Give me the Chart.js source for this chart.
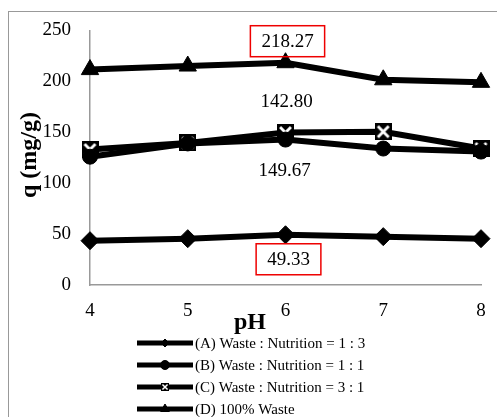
<!DOCTYPE html>
<html>
<head>
<meta charset="utf-8">
<script src="https://cdn.jsdelivr.net/npm/chart.js@4"></script>
<style>
  html, body { margin: 0; padding: 0; background: #fff; overflow: hidden; }
  #wrap { position: relative; width: 497px; height: 417px; }
  #frame { position: absolute; left: 8px; top: 11px; width: 600px; height: 600px; border: 1px solid #999; box-sizing: border-box; }
  canvas { position: absolute; left: 0; top: 0; }
</style>
</head>
<body>
<div id="wrap">
  <div id="frame"></div>
  <canvas id="chart" width="497" height="417"></canvas>
</div>
<script>
const phLabels = ["4", "5", "6", "7", "8"];
const seriesA = [43.5, 45.5, 49.33, 47.5, 45.5];
const seriesB = [126, 139, 142.80, 134, 131];
const seriesC = [133, 139.5, 149.67, 150.5, 134];
const seriesD = [211.5, 215, 218.27, 201.5, 199];
const legendNames = [
  "(A) Waste : Nutrition = 1 : 3",
  "(B) Waste : Nutrition = 1 : 1",
  "(C) Waste : Nutrition = 3 : 1",
  "(D) 100% Waste"
];
const serif = "'Liberation Serif', 'Times New Roman', serif";

// square with white cross for series C
function crossBox(size) {
  const c = document.createElement("canvas");
  c.width = size; c.height = size;
  const g = c.getContext("2d");
  g.fillStyle = "#000";
  g.fillRect(0, 0, size, size);
  g.strokeStyle = "#fff";
  g.lineWidth = Math.max(1.5, size / 6);
  g.beginPath();
  g.moveTo(size * 0.18, size * 0.18); g.lineTo(size * 0.82, size * 0.82);
  g.moveTo(size * 0.82, size * 0.18); g.lineTo(size * 0.18, size * 0.82);
  g.stroke();
  return c;
}
const boxBig = crossBox(17);
const boxSmall = crossBox(8);

function ds(label, data, style, radius, legendStyle, legendRadius) {
  return {
    label: label, data: data,
    borderColor: "#000", backgroundColor: "#000",
    borderWidth: 6, tension: 0,
    pointStyle: style, pointRadius: radius,
    pointBackgroundColor: "#000", pointBorderColor: "#000", pointBorderWidth: 1,
    legendStyle: legendStyle, legendRadius: legendRadius
  };
}

const extras = {
  id: "extras",
  afterDraw(chart) {
    const ctx = chart.ctx;
    const xs = chart.scales.x, ys = chart.scales.y;
    ctx.save();
    ctx.fillStyle = "#000";
    // axis titles
    ctx.font = "bold 24px " + serif;
    ctx.textAlign = "center";
    ctx.textBaseline = "middle";
    ctx.fillText("pH", 250, 323);
    ctx.save();
    ctx.translate(30, 155);
    ctx.rotate(-Math.PI / 2);
    ctx.font = "bold 24px " + serif;
    ctx.fillText("q (mg/g)", 0, 0);
    ctx.restore();

    // value labels at pH 6
    ctx.font = "19px " + serif;
    const px = xs.getPixelForValue(2);
    const labels = [
      { v: seriesD[2], dy: -22, box: true, dx: 2 },
      { v: seriesA[2], dy: 24, box: true, dx: 3 },
      { v: seriesB[2], dy: -32, box: false, dx: 1, ref: seriesC[2] },
      { v: seriesC[2], dy: 30, box: false, dx: -1, ref: seriesB[2] }
    ];
    labels.forEach(l => {
      const base = ys.getPixelForValue(l.ref !== undefined ? l.ref : l.v);
      const x = px + l.dx, y = base + l.dy;
      const t = l.v.toFixed(2);
      ctx.fillText(t, x, y + 1);
      if (l.box) {
        const w = ctx.measureText(t).width + 22;
        ctx.strokeStyle = "#e00";
        ctx.lineWidth = 1.5;
        ctx.strokeRect(x - w / 2, y - 15, w, 31);
      }
    });

    // legend
    ctx.font = "15px " + serif;
    ctx.textAlign = "left";
    chart.data.datasets.forEach((d, i) => {
      const y = 343 + i * 22;
      ctx.strokeStyle = "#000";
      ctx.lineWidth = 5;
      ctx.beginPath();
      ctx.moveTo(137, y); ctx.lineTo(193, y);
      ctx.stroke();
      ctx.lineWidth = 1;
      ctx.fillStyle = "#000";
      Chart.helpers.drawPoint(ctx, {
        pointStyle: d.legendStyle, radius: d.legendRadius, borderWidth: 1
      }, 165, y);
      ctx.fillText(legendNames[i], 195, y + 1);
    });
    ctx.restore();
  }
};

new Chart(document.getElementById("chart"), {
  type: "line",
  data: {
    labels: phLabels,
    datasets: [
      ds("A", seriesA, "rectRot", 9, "rectRot", 4),
      ds("B", seriesB, "circle", 7.5, "circle", 4.5),
      ds("C", seriesC, boxBig, 9, boxSmall, 4),
      ds("D", seriesD, "triangle", 10, "triangle", 5)
    ]
  },
  options: {
    responsive: false,
    animation: false,
    layout: { padding: { left: 0, right: 16, top: 27, bottom: 92 } },
    plugins: { legend: { display: false }, tooltip: { enabled: false } },
    scales: {
      x: {
        offset: false,
        grid: { display: false, drawTicks: false },
        border: { color: "#999", width: 1.5 },
        ticks: { color: "#000", padding: 15, font: { family: serif, size: 19 } },
        afterFit(s) { s.height = 40; s.paddingRight = 0; }
      },
      y: {
        min: 0, max: 250,
        grid: { display: false, drawTicks: false },
        border: { color: "#999", width: 1.5 },
        ticks: { stepSize: 50, color: "#000", padding: 19, font: { family: serif, size: 19 } },
        afterFit(s) { s.width = 90; }
      }
    }
  },
  plugins: [extras]
});
</script>
</body>
</html>
